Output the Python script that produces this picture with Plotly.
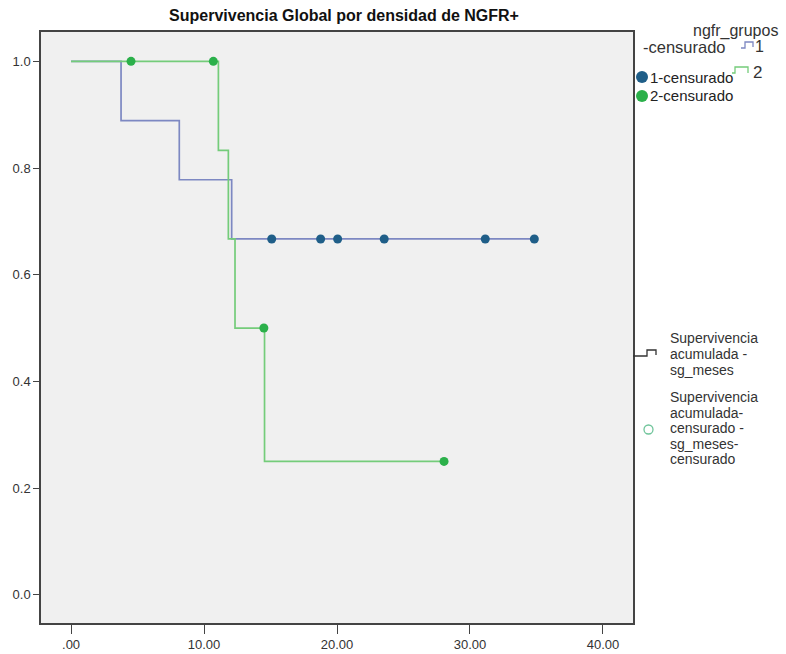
import plotly.graph_objects as go

# ---- data ----
g1_step_x = [0, 3.76, 8.14, 12.08, 34.84]
g1_step_y = [1.0, 0.889, 0.778, 0.667, 0.667]
g1_cens_x = [15.09, 18.77, 20.05, 23.55, 31.15, 34.84]
g1_cens_y = [0.667, 0.667, 0.667, 0.667, 0.667, 0.667]

g2_step_x = [0, 11.08, 11.83, 12.33, 14.55, 28.05]
g2_step_y = [1.0, 0.833, 0.667, 0.5, 0.25, 0.25]
g2_cens_x = [4.51, 10.70, 14.50, 28.05]
g2_cens_y = [1.0, 1.0, 0.5, 0.25]

x_ticks = [0, 10, 20, 30, 40]
x_tick_text = [".00", "10.00", "20.00", "30.00", "40.00"]
y_ticks = [0.0, 0.2, 0.4, 0.6, 0.8, 1.0]
y_tick_text = ["0.0", "0.2", "0.4", "0.6", "0.8", "1.0"]

title = "Supervivencia Global por densidad de NGFR+"
legend1_lines = ["Supervivencia", "acumulada -", "sg_meses"]
legend2_lines = ["Supervivencia", "acumulada-", "censurado -", "sg_meses-", "censurado"]

W, H = 786, 654
L, R, T, B = 41, 633, 32, 623

BLUE_LINE = "#7d88c2"
BLUE_MK = "#1f5e88"
GREEN_LINE = "#74cc7a"
GREEN_MK = "#2bb04a"
FONT = "Liberation Sans, Arial, sans-serif"

fig = go.Figure()
fig.add_trace(go.Scatter(x=g1_step_x, y=g1_step_y, mode="lines", line_shape="hv",
                         line=dict(color=BLUE_LINE, width=1.7), showlegend=False))
fig.add_trace(go.Scatter(x=g2_step_x, y=g2_step_y, mode="lines", line_shape="hv",
                         line=dict(color=GREEN_LINE, width=1.7), showlegend=False))
fig.add_trace(go.Scatter(x=g1_cens_x, y=g1_cens_y, mode="markers",
                         marker=dict(color=BLUE_MK, size=9), showlegend=False))
fig.add_trace(go.Scatter(x=g2_cens_x, y=g2_cens_y, mode="markers",
                         marker=dict(color=GREEN_MK, size=9), showlegend=False))


def px(x):
    return (x - L) / (R - L)


def py(y):
    return (B - y) / (B - T)


shapes = []
annotations = []


def label(x, y, text, size, anchor="left", color="#333333"):
    annotations.append(dict(x=px(x), y=py(y), xref="paper", yref="paper", text=text,
                            showarrow=False, xanchor=anchor, yanchor="middle", align="left",
                            borderpad=0,
                            font=dict(family=FONT, size=size, color=color)))


# top legend
label(735, 31, "ngfr_grupos", 16, anchor="center")
label(642, 47, "-censurado", 16.5)
label(754, 46, "1", 16)
label(752, 72, "2", 17)
label(649, 77, "1-censurado", 15, color="#222222")
label(649, 96, "2-censurado", 15, color="#222222")

# step symbols in top legend
shapes.append(dict(type="path", xref="paper", yref="paper",
                   path=f"M {px(741)},{py(48)} L {px(745)},{py(48)} L {px(745)},{py(42)} L {px(753)},{py(42)} L {px(753)},{py(47)}",
                   line=dict(color=BLUE_LINE, width=1.3)))
shapes.append(dict(type="path", xref="paper", yref="paper",
                   path=f"M {px(732)},{py(73)} L {px(735)},{py(73)} L {px(735)},{py(67)} L {px(748)},{py(67)} L {px(748)},{py(73)}",
                   line=dict(color=GREEN_LINE, width=1.3)))
# marker symbols
shapes.append(dict(type="circle", xref="paper", yref="paper",
                   x0=px(636), x1=px(648), y0=py(83), y1=py(71),
                   fillcolor=BLUE_MK, line=dict(width=0)))
shapes.append(dict(type="circle", xref="paper", yref="paper",
                   x0=px(636), x1=px(648), y0=py(102), y1=py(90),
                   fillcolor=GREEN_MK, line=dict(width=0)))

# bottom right legend
shapes.append(dict(type="path", xref="paper", yref="paper",
                   path=f"M {px(633)},{py(356)} L {px(647)},{py(356)} L {px(647)},{py(350)} L {px(656)},{py(350)} L {px(656)},{py(355)}",
                   line=dict(color="#333333", width=1.3)))
shapes.append(dict(type="circle", xref="paper", yref="paper",
                   x0=px(644), x1=px(653), y0=py(434), y1=py(425),
                   fillcolor="rgba(0,0,0,0)", line=dict(color="#6fc49a", width=1.3)))
for i, t in enumerate(legend1_lines):
    label(669, 338 + i * 16, t, 14)
for i, t in enumerate(legend2_lines):
    label(669, 397 + i * 15.6, t, 14)

fig.update_layout(
    width=W, height=H,
    margin=dict(l=L, r=W - R, t=T, b=H - B, pad=0, autoexpand=False),
    paper_bgcolor="white",
    plot_bgcolor="#f0f0f0",
    title=dict(text="<b>" + title + "</b>", x=px(344), xref="paper", xanchor="center",
               y=1 - 15 / H, yanchor="middle", automargin=False,
               font=dict(family=FONT, size=16, color="#111111")),
    shapes=shapes,
    annotations=annotations,
    showlegend=False,
)
fig.update_xaxes(range=[-2.26, 42.26], tickvals=x_ticks, ticktext=x_tick_text,
                 showgrid=False, zeroline=False, showline=True, mirror=True, automargin=False,
                 linecolor="#444444", linewidth=1.5, ticks="outside", ticklen=9,
                 tickcolor="#444444", tickfont=dict(family=FONT, size=13, color="#333333"))
fig.update_yaxes(range=[-0.053, 1.055], tickvals=y_ticks, ticktext=y_tick_text,
                 showgrid=False, zeroline=False, showline=True, mirror=True, automargin=False,
                 linecolor="#444444", linewidth=1.5, ticks="outside", ticklen=6,
                 tickcolor="#444444", tickfont=dict(family=FONT, size=13, color="#333333"))

fig.write_html("out.html")
